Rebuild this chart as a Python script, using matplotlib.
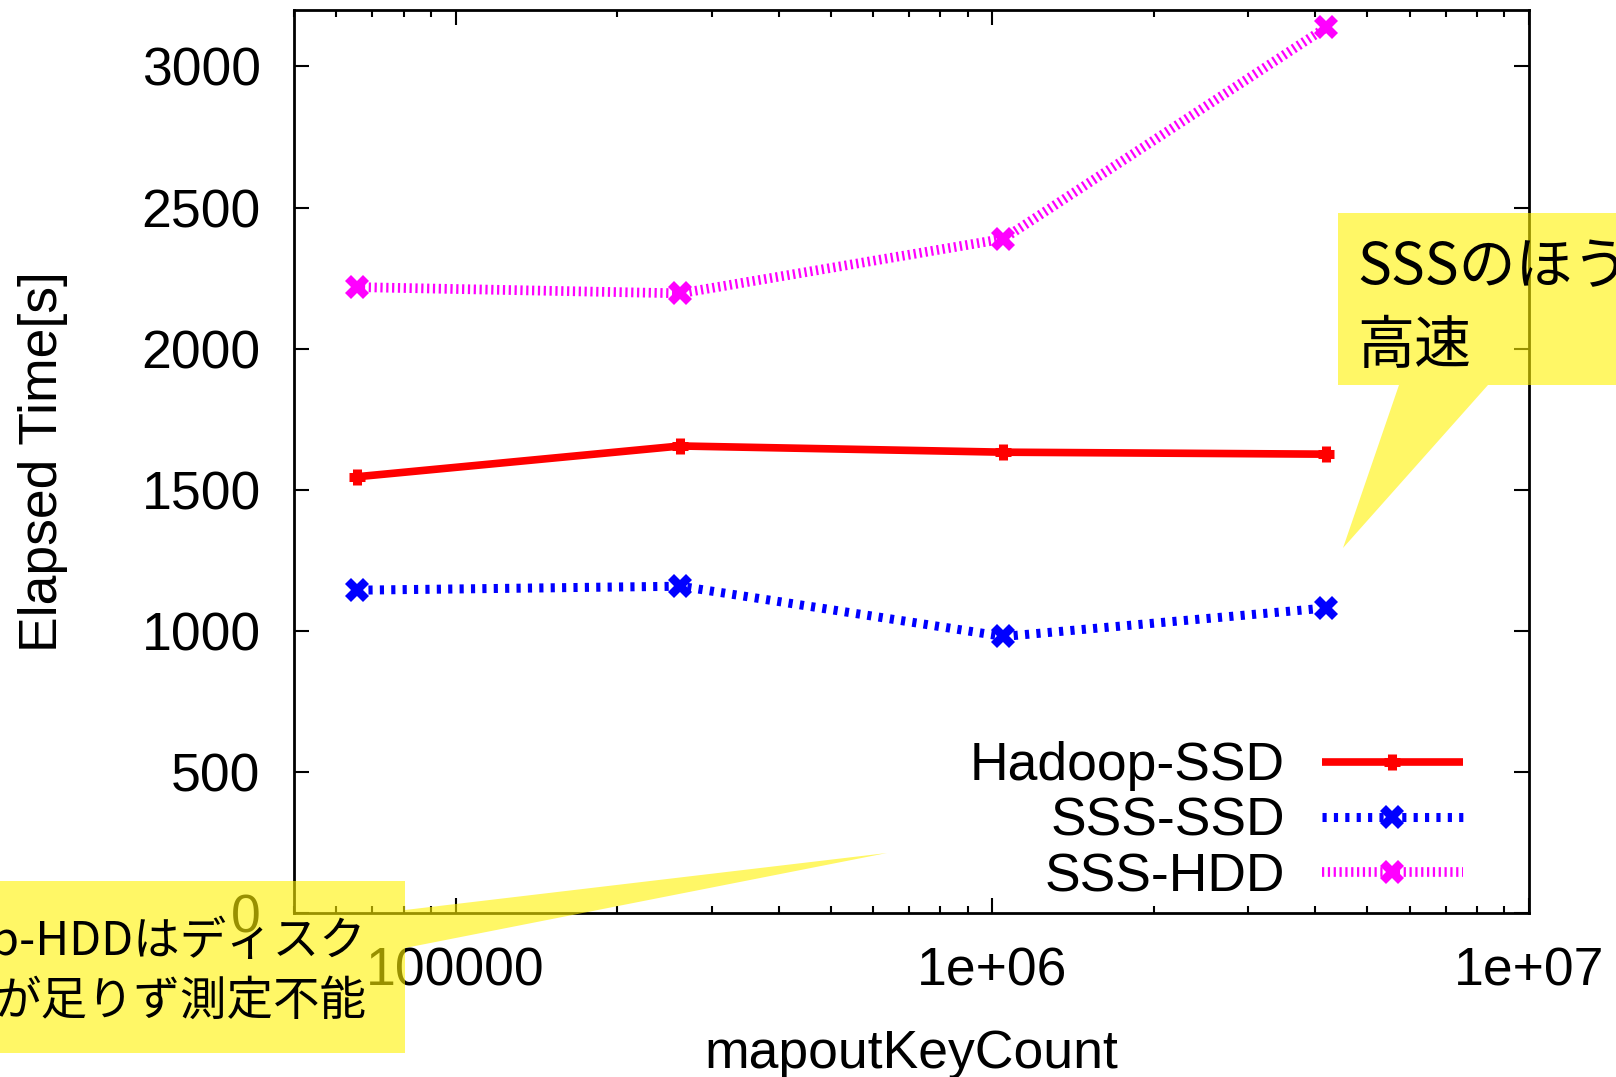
import matplotlib
matplotlib.use('Agg')
import matplotlib.pyplot as plt
from matplotlib.patches import Polygon
from matplotlib.ticker import FixedLocator, LogLocator, NullFormatter

plt.rcParams['font.family'] = ['Liberation Sans', 'DejaVu Sans']
plt.rcParams['lines.scale_dashes'] = False

# ---- data ----
key_count = [65536, 262144, 1048576, 4194304]
hadoop_ssd = [1546, 1655, 1633, 1626]
sss_ssd = [1144, 1158, 980, 1081]
sss_hdd = [2218, 2196, 2389, 3139]
series_labels = ['Hadoop-SSD', 'SSS-SSD', 'SSS-HDD']
x_ticks = [1e5, 1e6, 1e7]
x_tick_labels = ['100000', '1e+06', '1e+07']
y_ticks = [0, 500, 1000, 1500, 2000, 2500, 3000]
x_label = 'mapoutKeyCount'
y_label = 'Elapsed Time[s]'
note_fast = 'SSSのほう\n高速'
note_hdd = 'oop-HDDはディスク\nが足りず測定不能'

W, H = 1616, 1077
FS = 38.5


def px(x, y):
    return (x / W, 1 - y / H)


fig = plt.figure(figsize=(W / 100, H / 100), dpi=100)
l, t, r, b = 294, 10, 1529, 913
ax = fig.add_axes([l / W, 1 - b / H, (r - l) / W, (b - t) / H])

ax.plot(key_count, hadoop_ssd, color='#ff0000', lw=5.5, marker='+', ms=11, mew=6.5,
        label=series_labels[0], solid_capstyle='butt')
ax.plot(key_count, sss_ssd, color='#0000ff', lw=6.5, dashes=(3.0, 5.2), marker='X',
        ms=17, mew=0, label=series_labels[1])
ax.plot(key_count, sss_hdd, color='#ff00ff', lw=7, dashes=(1.6, 2.6), marker='X',
        ms=17, mew=0, label=series_labels[2])

ax.set_xscale('log')
ax.set_xlim(5e4, 1e7)
ax.set_ylim(0, 3200)
ax.xaxis.set_major_locator(FixedLocator(x_ticks))
ax.set_xticklabels(x_tick_labels)
ax.xaxis.set_minor_locator(LogLocator(base=10, subs=range(2, 10), numticks=20))
ax.xaxis.set_minor_formatter(NullFormatter())
ax.set_yticks(y_ticks)

ax.tick_params(which='both', direction='in', top=True, right=True, width=1.5,
               labelsize=FS)
ax.tick_params(which='major', length=10.8)
ax.tick_params(which='minor', length=5)
ax.tick_params(axis='x', pad=24)
ax.tick_params(axis='y', pad=24)
for s in ax.spines.values():
    s.set_linewidth(2)

ax.set_xlabel(x_label, fontsize=FS)
ax.set_ylabel(y_label, fontsize=FS)
ax.xaxis.set_label_coords(0.5, -0.129)
ax.yaxis.set_label_coords((68 - l) / (r - l), 0.5)

leg = ax.legend(loc='lower right', bbox_to_anchor=((1463 - l) / (r - l), (b - 902) / (b - t)),
                frameon=False, markerfirst=False, fontsize=FS, borderpad=0,
                borderaxespad=0, handlelength=2.64, handletextpad=0.69,
                labelspacing=0.1, numpoints=1)

# ---- callouts ----
yellow = '#fff200'
poly1 = [px(1338, 213), px(1630, 213), px(1630, 385), px(1488, 385), px(1343, 548),
         px(1399, 385), px(1338, 385)]
fig.add_artist(Polygon(poly1, closed=True, transform=fig.transFigure, facecolor=yellow,
                       edgecolor='none', alpha=0.6, zorder=5))
poly2 = [px(-10, 881), px(405, 881), px(405, 910), px(887, 853), px(405, 948),
         px(405, 1053), px(-10, 1053)]
fig.add_artist(Polygon(poly2, closed=True, transform=fig.transFigure, facecolor=yellow,
                       edgecolor='none', alpha=0.6, zorder=5))

cjk = ['Noto Sans CJK JP', 'DejaVu Sans']
# baseline of last line
x1, y1 = px(1357, 363)
fig.text(x1, y1, note_fast, family=cjk, fontsize=41, ha='left', va='baseline',
         linespacing=1.45, zorder=6)
x2, y2 = px(366, 1015)
fig.text(x2, y2, note_hdd, family=cjk, fontsize=33.5, ha='right', va='baseline',
         multialignment='right', linespacing=1.32, zorder=6)

fig.savefig('out.png', dpi=100)
